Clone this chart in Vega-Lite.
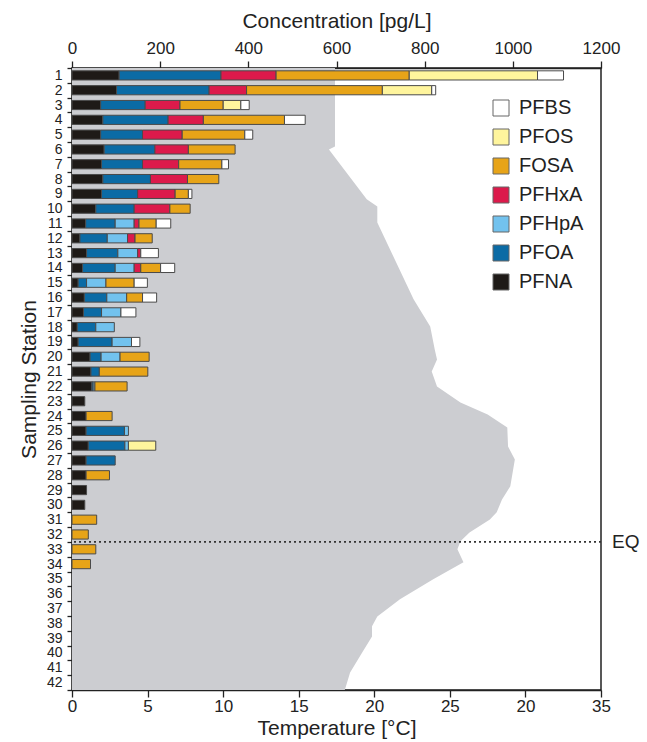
{
  "$schema": "https://vega.github.io/schema/vega-lite/v6.json",
  "width": 529,
  "height": 622,
  "autosize": {"type": "none"},
  "padding": {"left": 72, "top": 68, "right": 46, "bottom": 52},
  "config": {
    "font": "Liberation Sans",
    "view": {"stroke": "#222", "strokeWidth": 1.5},
    "axis": {"grid": false, "domainColor": "#222", "domainWidth": 1.5, "tickColor": "#222", "tickWidth": 1.3, "labelColor": "#222", "titleColor": "#222", "titleFontWeight": "normal"}
  },
  "datasets": {
    "temps": [
      {"pos": 0.5, "temp": 17.4}, {"pos": 5.8, "temp": 17.4}, {"pos": 6.0, "temp": 17.0},
      {"pos": 9.37, "temp": 19.5}, {"pos": 9.85, "temp": 20.2}, {"pos": 10.93, "temp": 20.2},
      {"pos": 16.12, "temp": 22.6}, {"pos": 17.95, "temp": 23.7}, {"pos": 19.5, "temp": 24.0},
      {"pos": 20.18, "temp": 24.15}, {"pos": 20.99, "temp": 23.8}, {"pos": 22.0, "temp": 24.15},
      {"pos": 23.08, "temp": 25.7}, {"pos": 23.89, "temp": 27.5}, {"pos": 24.77, "temp": 28.8},
      {"pos": 26.05, "temp": 28.85}, {"pos": 26.93, "temp": 29.3}, {"pos": 28.75, "temp": 29.0},
      {"pos": 29.63, "temp": 28.45}, {"pos": 30.5, "temp": 28.1}, {"pos": 30.98, "temp": 27.65},
      {"pos": 31.86, "temp": 26.3}, {"pos": 32.46, "temp": 25.7}, {"pos": 33.0, "temp": 25.5},
      {"pos": 33.88, "temp": 25.9}, {"pos": 35.03, "temp": 23.9}, {"pos": 36.38, "temp": 21.7},
      {"pos": 37.53, "temp": 20.2}, {"pos": 38.2, "temp": 19.85}, {"pos": 38.88, "temp": 19.85},
      {"pos": 39.96, "temp": 19.2}, {"pos": 41.31, "temp": 18.4}, {"pos": 42.5, "temp": 18.05}
    ],
    "equator": [{"pos": 32.5, "label": "EQ"}],
    "compounds": [
      {"compound": "PFNA", "rank": 1}, {"compound": "PFOA", "rank": 2}, {"compound": "PFHpA", "rank": 3},
      {"compound": "PFHxA", "rank": 4}, {"compound": "FOSA", "rank": 5}, {"compound": "PFOS", "rank": 6},
      {"compound": "PFBS", "rank": 7}
    ],
    "conc": [
      {"station": 1, "compound": "PFNA", "value": 107}, {"station": 1, "compound": "PFOA", "value": 231}, {"station": 1, "compound": "PFHxA", "value": 125}, {"station": 1, "compound": "FOSA", "value": 302}, {"station": 1, "compound": "PFOS", "value": 291}, {"station": 1, "compound": "PFBS", "value": 59},
      {"station": 2, "compound": "PFNA", "value": 101}, {"station": 2, "compound": "PFOA", "value": 210}, {"station": 2, "compound": "PFHxA", "value": 85}, {"station": 2, "compound": "FOSA", "value": 308}, {"station": 2, "compound": "PFOS", "value": 112}, {"station": 2, "compound": "PFBS", "value": 9},
      {"station": 3, "compound": "PFNA", "value": 65}, {"station": 3, "compound": "PFOA", "value": 101}, {"station": 3, "compound": "PFHxA", "value": 79}, {"station": 3, "compound": "FOSA", "value": 98}, {"station": 3, "compound": "PFOS", "value": 40}, {"station": 3, "compound": "PFBS", "value": 19},
      {"station": 4, "compound": "PFNA", "value": 70}, {"station": 4, "compound": "PFOA", "value": 148}, {"station": 4, "compound": "PFHxA", "value": 80}, {"station": 4, "compound": "FOSA", "value": 184}, {"station": 4, "compound": "PFBS", "value": 47},
      {"station": 5, "compound": "PFNA", "value": 65}, {"station": 5, "compound": "PFOA", "value": 95}, {"station": 5, "compound": "PFHxA", "value": 90}, {"station": 5, "compound": "FOSA", "value": 142}, {"station": 5, "compound": "PFBS", "value": 18},
      {"station": 6, "compound": "PFNA", "value": 73}, {"station": 6, "compound": "PFOA", "value": 115}, {"station": 6, "compound": "PFHxA", "value": 76}, {"station": 6, "compound": "FOSA", "value": 106},
      {"station": 7, "compound": "PFNA", "value": 67}, {"station": 7, "compound": "PFOA", "value": 93}, {"station": 7, "compound": "PFHxA", "value": 82}, {"station": 7, "compound": "FOSA", "value": 98}, {"station": 7, "compound": "PFBS", "value": 15},
      {"station": 8, "compound": "PFNA", "value": 70}, {"station": 8, "compound": "PFOA", "value": 108}, {"station": 8, "compound": "PFHxA", "value": 84}, {"station": 8, "compound": "FOSA", "value": 71},
      {"station": 9, "compound": "PFNA", "value": 67}, {"station": 9, "compound": "PFOA", "value": 82}, {"station": 9, "compound": "PFHxA", "value": 85}, {"station": 9, "compound": "FOSA", "value": 30}, {"station": 9, "compound": "PFBS", "value": 8},
      {"station": 10, "compound": "PFNA", "value": 54}, {"station": 10, "compound": "PFOA", "value": 87}, {"station": 10, "compound": "PFHxA", "value": 81}, {"station": 10, "compound": "FOSA", "value": 46},
      {"station": 11, "compound": "PFNA", "value": 31}, {"station": 11, "compound": "PFOA", "value": 67}, {"station": 11, "compound": "PFHpA", "value": 43}, {"station": 11, "compound": "PFHxA", "value": 11}, {"station": 11, "compound": "FOSA", "value": 39}, {"station": 11, "compound": "PFBS", "value": 33},
      {"station": 12, "compound": "PFNA", "value": 18}, {"station": 12, "compound": "PFOA", "value": 62}, {"station": 12, "compound": "PFHpA", "value": 46}, {"station": 12, "compound": "PFHxA", "value": 17}, {"station": 12, "compound": "FOSA", "value": 39},
      {"station": 13, "compound": "PFNA", "value": 33}, {"station": 13, "compound": "PFOA", "value": 71}, {"station": 13, "compound": "PFHpA", "value": 45}, {"station": 13, "compound": "PFHxA", "value": 7}, {"station": 13, "compound": "PFBS", "value": 40},
      {"station": 14, "compound": "PFNA", "value": 24}, {"station": 14, "compound": "PFOA", "value": 74}, {"station": 14, "compound": "PFHpA", "value": 43}, {"station": 14, "compound": "PFHxA", "value": 15}, {"station": 14, "compound": "FOSA", "value": 45}, {"station": 14, "compound": "PFBS", "value": 32},
      {"station": 15, "compound": "PFNA", "value": 14}, {"station": 15, "compound": "PFOA", "value": 19}, {"station": 15, "compound": "PFHpA", "value": 44}, {"station": 15, "compound": "FOSA", "value": 64}, {"station": 15, "compound": "PFBS", "value": 30},
      {"station": 16, "compound": "PFNA", "value": 28}, {"station": 16, "compound": "PFOA", "value": 51}, {"station": 16, "compound": "PFHpA", "value": 45}, {"station": 16, "compound": "FOSA", "value": 36}, {"station": 16, "compound": "PFBS", "value": 32},
      {"station": 17, "compound": "PFNA", "value": 26}, {"station": 17, "compound": "PFOA", "value": 41}, {"station": 17, "compound": "PFHpA", "value": 44}, {"station": 17, "compound": "PFBS", "value": 34},
      {"station": 18, "compound": "PFNA", "value": 12}, {"station": 18, "compound": "PFOA", "value": 42}, {"station": 18, "compound": "PFHpA", "value": 42},
      {"station": 19, "compound": "PFNA", "value": 14}, {"station": 19, "compound": "PFOA", "value": 77}, {"station": 19, "compound": "PFHpA", "value": 44}, {"station": 19, "compound": "PFBS", "value": 19},
      {"station": 20, "compound": "PFNA", "value": 41}, {"station": 20, "compound": "PFOA", "value": 25}, {"station": 20, "compound": "PFHpA", "value": 43}, {"station": 20, "compound": "FOSA", "value": 66},
      {"station": 21, "compound": "PFNA", "value": 43}, {"station": 21, "compound": "PFOA", "value": 19}, {"station": 21, "compound": "FOSA", "value": 110},
      {"station": 22, "compound": "PFNA", "value": 45}, {"station": 22, "compound": "PFOA", "value": 3}, {"station": 22, "compound": "PFHpA", "value": 4}, {"station": 22, "compound": "FOSA", "value": 73},
      {"station": 23, "compound": "PFNA", "value": 29},
      {"station": 24, "compound": "PFNA", "value": 32}, {"station": 24, "compound": "FOSA", "value": 59},
      {"station": 25, "compound": "PFNA", "value": 32}, {"station": 25, "compound": "PFOA", "value": 87}, {"station": 25, "compound": "PFHpA", "value": 9},
      {"station": 26, "compound": "PFNA", "value": 37}, {"station": 26, "compound": "PFOA", "value": 83}, {"station": 26, "compound": "PFHpA", "value": 8}, {"station": 26, "compound": "PFOS", "value": 62},
      {"station": 27, "compound": "PFNA", "value": 32}, {"station": 27, "compound": "PFOA", "value": 66},
      {"station": 28, "compound": "PFNA", "value": 32}, {"station": 28, "compound": "FOSA", "value": 53},
      {"station": 29, "compound": "PFNA", "value": 33},
      {"station": 30, "compound": "PFNA", "value": 29},
      {"station": 31, "compound": "FOSA", "value": 56},
      {"station": 32, "compound": "FOSA", "value": 37},
      {"station": 33, "compound": "FOSA", "value": 54},
      {"station": 34, "compound": "FOSA", "value": 42}
    ]
  },
  "layer": [
    {
      "layer": [
        {
          "data": {"name": "temps"},
          "mark": {"type": "area", "orient": "horizontal", "color": "#cccdd1", "interpolate": "linear"},
          "encoding": {
            "x": {"field": "temp", "type": "quantitative", "scale": {"domain": [0, 35], "nice": false, "zero": true},
              "axis": {"orient": "bottom", "values": [0, 5, 10, 15, 20, 25, 30, 35], "labelExpr": "datum.value == 30 ? '20' : datum.label", "title": "Temperature [°C]", "labelFontSize": 17, "titleFontSize": 21, "tickSize": 7, "labelPadding": 1, "titlePadding": 3, "labelFlush": false}},
            "y": {"field": "pos", "type": "quantitative", "scale": {"domain": [0.5, 42.5], "nice": false, "zero": false, "reverse": true}, "axis": null}
          }
        },
        {
          "data": {"name": "equator"},
          "mark": {"type": "rule", "color": "#333", "strokeDash": [2, 3], "strokeWidth": 1.6},
          "encoding": {
            "y": {"field": "pos", "type": "quantitative", "axis": null}
          }
        },
        {
          "data": {"name": "equator"},
          "mark": {"type": "text", "align": "left", "baseline": "middle", "dx": 11, "fontSize": 19, "color": "#222"},
          "encoding": {
            "x": {"datum": 35, "type": "quantitative"},
            "y": {"field": "pos", "type": "quantitative", "axis": null},
            "text": {"field": "label"}
          }
        }
      ]
    },
    {
      "data": {"name": "conc"},
      "transform": [
        {"lookup": "compound", "from": {"data": {"name": "compounds"}, "key": "compound", "fields": ["rank"]}}
      ],
      "mark": {"type": "bar", "height": {"band": 0.62}, "stroke": "#4a4a4a", "strokeWidth": 1},
      "encoding": {
        "y": {"field": "station", "type": "ordinal",
          "scale": {"domain": [1,2,3,4,5,6,7,8,9,10,11,12,13,14,15,16,17,18,19,20,21,22,23,24,25,26,27,28,29,30,31,32,33,34,35,36,37,38,39,40,41,42], "paddingInner": 0, "paddingOuter": 0},
          "axis": {"orient": "left", "title": "Sampling Station", "titleFontSize": 21, "labelFontSize": 14, "tickBand": "extent", "tickSize": 5, "labelPadding": 5, "titlePadding": 7}},
        "x": {"field": "value", "type": "quantitative", "stack": "zero", "scale": {"domain": [0, 1200], "nice": false},
          "axis": {"orient": "top", "values": [0, 200, 400, 600, 800, 1000, 1200], "format": "d", "title": "Concentration [pg/L]", "labelFontSize": 17, "titleFontSize": 21, "tickSize": 7, "labelPadding": 4, "titlePadding": 8, "labelFlush": false}},
        "order": {"field": "rank", "type": "quantitative"},
        "color": {"field": "compound", "type": "nominal",
          "scale": {"domain": ["PFNA", "PFOA", "PFHpA", "PFHxA", "FOSA", "PFOS", "PFBS"], "range": ["#1e1a17", "#0b6ba5", "#72c2ee", "#dc1a4b", "#e7a418", "#fff59d", "#ffffff"]},
          "legend": {"orient": "none", "legendX": 419, "legendY": 30, "title": null, "values": ["PFBS", "PFOS", "FOSA", "PFHxA", "PFHpA", "PFOA", "PFNA"], "symbolType": "square", "symbolSize": 256, "symbolStrokeColor": "#666", "symbolStrokeWidth": 1, "labelFontSize": 20, "labelColor": "#222", "labelOffset": 8, "rowPadding": 9, "padding": 0}}
      }
    }
  ],
  "resolve": {"scale": {"x": "independent", "y": "independent"}}
}
